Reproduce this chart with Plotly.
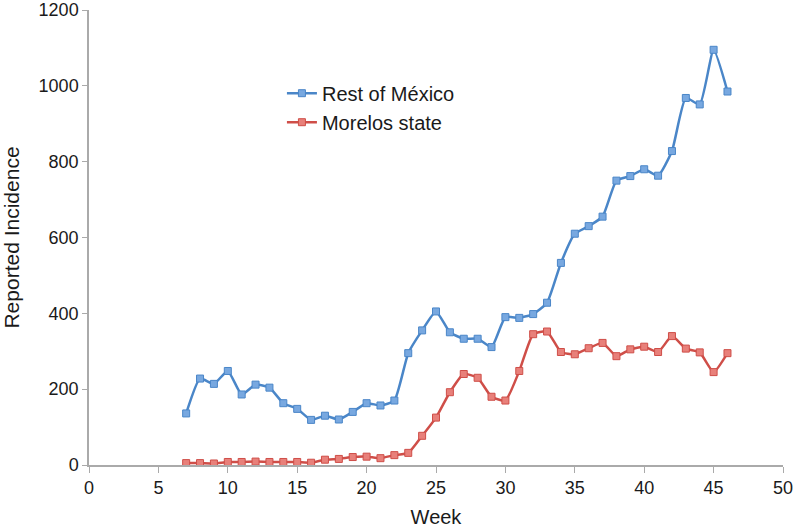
import plotly.graph_objects as go

weeks = list(range(7, 47))
rest_mexico = [136, 228, 214, 248, 186, 212, 204, 163, 148, 119, 130, 120, 140, 163, 157, 170,
               295, 355, 405, 350, 333, 333, 311, 390, 388, 398, 428, 533, 610, 630, 655, 750,
               762, 780, 763, 828, 968, 951, 1095, 985]
morelos = [5, 5, 4, 8, 8, 9, 8, 8, 8, 6, 14, 16, 21, 22, 18, 26, 32, 77, 125, 192, 240, 230,
           180, 170, 248, 345, 352, 298, 292, 308, 322, 287, 305, 312, 298, 340, 307, 297, 245, 295]

font = "Liberation Sans, Arial, sans-serif"

fig = go.Figure()
fig.add_trace(go.Scatter(
    x=weeks, y=rest_mexico, name="Rest of México", mode="lines+markers",
    line=dict(color="#4A86C8", width=2.5, shape="spline", smoothing=0.5),
    marker=dict(symbol="square", size=7, color="#78A8E0", line=dict(color="#4A86C8", width=1)),
))
fig.add_trace(go.Scatter(
    x=weeks, y=morelos, name="Morelos state", mode="lines+markers",
    line=dict(color="#CF4E48", width=2.5, shape="spline", smoothing=0.5),
    marker=dict(symbol="square", size=7, color="#E8807A", line=dict(color="#CF4E48", width=1)),
))

fig.update_layout(
    width=794, height=528,
    margin=dict(l=89, r=11, t=10, b=63),
    paper_bgcolor="white", plot_bgcolor="white",
    font=dict(family=font, size=18, color="#1a1a1a"),
    showlegend=True,
    legend=dict(x=0.278, y=0.86, xanchor="left", yanchor="top",
                bgcolor="rgba(0,0,0,0)", font=dict(size=20), tracegroupgap=0,
                itemwidth=30),
    xaxis=dict(range=[0, 50], dtick=5, tick0=0, showgrid=False, zeroline=False,
               showline=True, linecolor="#AAAAAA", linewidth=1.5, automargin=False,
               ticks="outside", ticklen=6, tickcolor="#AAAAAA", ticklabeloverflow="allow",
               title=dict(text="Week", font=dict(size=20))),
    yaxis=dict(range=[0, 1200], dtick=200, showgrid=False, zeroline=False,
               showline=True, linecolor="#AAAAAA", linewidth=1.5, automargin=False,
               ticks="outside", ticklen=5, tickcolor="#AAAAAA", ticklabeloverflow="allow",
               title=dict(text="Reported Incidence", font=dict(size=21))),
)

fig.write_html("out.html", config={"displayModeBar": False},
               post_script="document.body.style.margin='0';document.body.style.overflow='hidden';")
